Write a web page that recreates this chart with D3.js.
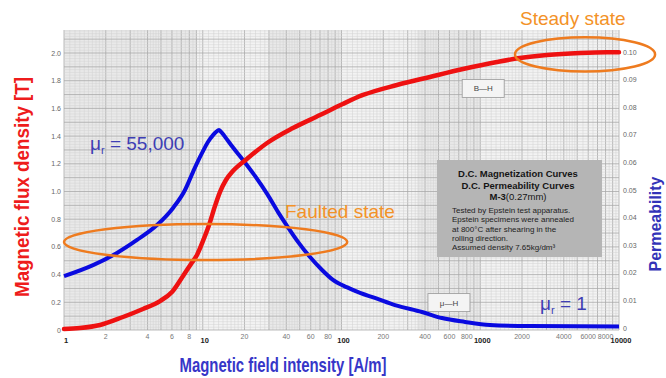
<!DOCTYPE html>
<html>
<head>
<meta charset="utf-8">
<script src="https://cdn.jsdelivr.net/npm/d3@7/dist/d3.min.js"></script>
<style>
  body { margin: 0; background: #fff; }
  svg { display: block; font-family: Arial, "Liberation Sans", sans-serif; }
</style>
</head>
<body>
<svg id="chart" width="666" height="378"></svg>
<script>
// B-H magnetization curve (field intensity A/m, flux density T)
const bhField = [1, 1.3, 1.82, 2.66, 3.71, 4.92, 6.0, 7.21, 8.23, 9.09, 10.04, 11.1, 12.25, 13.3, 14.7, 16.5, 20.8, 29.1, 44.7, 70, 102, 143, 251, 434, 751, 1320, 1930, 3030, 5240, 8200, 10000];
const bhFlux  = [0.007, 0.014, 0.036, 0.094, 0.152, 0.209, 0.274, 0.39, 0.477, 0.542, 0.643, 0.758, 0.895, 0.996, 1.083, 1.148, 1.235, 1.35, 1.458, 1.552, 1.632, 1.697, 1.769, 1.827, 1.884, 1.935, 1.964, 1.986, 2.0, 2.005, 2.005];

// mu-H permeability curve
const muField = [1, 1.62, 2.41, 3.36, 4.68, 6.11, 7.45, 8.5, 9.24, 10.04, 10.9, 11.86, 12.46, 13.1, 13.76, 14.7, 16.0, 19.5, 23.8, 29.1, 34.9, 40.5, 48.6, 59.3, 72.4, 86.8, 110, 136, 174, 243, 380, 530, 777, 1175, 2284, 10000];
const muPerm  = [0.0188, 0.0228, 0.0272, 0.0319, 0.0373, 0.0435, 0.0500, 0.0565, 0.0605, 0.0641, 0.0674, 0.0699, 0.0710, 0.0717, 0.0707, 0.0688, 0.0663, 0.0609, 0.0551, 0.0486, 0.0420, 0.0370, 0.0312, 0.0257, 0.0210, 0.0174, 0.0147, 0.0127, 0.0109, 0.0083, 0.0058, 0.0036, 0.0022, 0.0011, 0.0007, 0.0005];

// axis ticks
const fieldTicks = [1, 2, 4, 6, 8, 10, 20, 40, 60, 80, 100, 200, 400, 600, 800, 1000, 2000, 4000, 6000, 8000, 10000];
const fluxTicks = [0, 0.2, 0.4, 0.6, 0.8, 1.0, 1.2, 1.4, 1.6, 1.8, 2.0];
const permTicks = [0, 0.01, 0.02, 0.03, 0.04, 0.05, 0.06, 0.07, 0.08, 0.09, 0.10];

// highlighted regions: [H from, H to], B centre, B half-height
const faultedRange = [1, 110], faultedB = [0.635, 0.13];
const steadyRange = [1780, 18200], steadyB = [1.99, 0.123];

const noteTitle = ["D.C. Magnetization Curves", "D.C. Permeability Curves"];
const noteBody = ["Tested by Epstein test apparatus.", "Epstein specimens were annealed", "at 800\u00b0C after shearing in the", "rolling direction.", "Assumed density 7.65kg/dm\u00b3"];

const margins = { left: 64, right: 47, top: 30, bottom: 48 };
const svg = d3.select("#chart");
const W = 666, H = 378;

const x = d3.scaleLog().domain([1, 10000]).range([margins.left, W - margins.right]);
const yB = d3.scaleLinear().domain([0, 2]).range([H - margins.bottom, 53]);
const yMu = d3.scaleLinear().domain([0, 0.1]).range([328, 52]);

const orange = "#ee7b1f", orangeText = "#f39227";

// plot background and log-paper grid
const gTop = margins.top, gBottom = yB(0);
svg.append("rect")
  .attr("x", x(1)).attr("y", gTop)
  .attr("width", x(10000) - x(1)).attr("height", gBottom - gTop)
  .attr("fill", "#f3f3f3");

// slightly darker paper bands as in the scan
[[1, 9], [30, 100], [350, 1000]].forEach(([a, b]) => {
  svg.append("rect")
    .attr("x", x(a)).attr("y", gTop)
    .attr("width", x(b) - x(a)).attr("height", gBottom - gTop)
    .attr("fill", "#e9e9e9");
});

const vLines = [];
[1, 10, 100, 1000].forEach((d) => {
  for (let v = 1; v < 2 - 1e-9; v += 0.1) vLines.push([v * d, Math.abs(v - Math.round(v)) < 1e-6]);
  for (let v = 2; v < 5 - 1e-9; v += 0.2) vLines.push([v * d, Math.abs(v - Math.round(v)) < 1e-6]);
  for (let v = 5; v < 10 - 1e-9; v += 0.5) vLines.push([v * d, Math.abs(v - Math.round(v)) < 1e-6]);
});
vLines.push([10000, true]);
svg.append("g").selectAll("line").data(vLines).join("line")
  .attr("x1", (d) => x(d[0])).attr("x2", (d) => x(d[0]))
  .attr("y1", gTop).attr("y2", gBottom)
  .attr("stroke", (d) => (d[1] ? "#aaa" : "#d0d0d0"))
  .attr("stroke-width", (d) => (d[1] ? 0.8 : 0.5));

const hLines = d3.range(0, 109).map((i) => i * 0.02);
svg.append("g").selectAll("line").data(hLines).join("line")
  .attr("x1", x(1)).attr("x2", x(10000))
  .attr("y1", (d) => yB(d)).attr("y2", (d) => yB(d))
  .attr("stroke", (d, i) => (i % 5 === 0 ? "#aaa" : "#d2d2d2"))
  .attr("stroke-width", (d, i) => (i % 5 === 0 ? 0.8 : 0.5));

// tick labels
svg.append("g").selectAll("text").data(fluxTicks).join("text")
  .attr("x", x(1) - 3).attr("y", (d) => yB(d) + 2.5)
  .attr("text-anchor", "end").attr("font-size", 7).attr("fill", "#666")
  .text((d) => (d === 0 ? "0" : d.toFixed(1)));

svg.append("g").selectAll("text").data(permTicks).join("text")
  .attr("x", x(10000) + 4).attr("y", (d) => yMu(d) + 2.5)
  .attr("font-size", 7).attr("fill", "#666")
  .text((d) => (d === 0 ? "0" : d.toFixed(2)));

const isDecade = (d) => Math.abs(Math.log10(d) - Math.round(Math.log10(d))) < 1e-9;
svg.append("g").selectAll("text").data(fieldTicks).join("text")
  .attr("x", (d) => x(d) + (isDecade(d) ? 2 : 0))
  .attr("y", (d) => (isDecade(d) ? 343 : 339))
  .attr("text-anchor", "middle")
  .attr("font-size", (d) => (isDecade(d) ? 7.5 : 7))
  .attr("font-weight", (d) => (isDecade(d) ? "bold" : "normal"))
  .attr("fill", (d) => (isDecade(d) ? "#222" : "#777"))
  .text((d) => d);

// curve labels
const labelBox = (cx, cy, label) => {
  svg.append("rect")
    .attr("x", cx - 21).attr("y", cy - 9).attr("width", 42).attr("height", 18)
    .attr("fill", "#f4f4f4").attr("stroke", "#999").attr("stroke-width", 0.8);
  svg.append("text").attr("x", cx).attr("y", cy + 3)
    .attr("text-anchor", "middle").attr("font-size", 8).attr("fill", "#444").text(label);
};
labelBox(x(1050), yB(1.744), "B\u2014H");
labelBox(x(595), yMu(0.0092), "\u03bc\u2014H");

// note box
const note = svg.append("g");
note.append("rect").attr("x", 437).attr("y", 160).attr("width", 165).attr("height", 97).attr("fill", "#b5b5b5");
noteTitle.forEach((t, i) => {
  note.append("text").attr("x", 518).attr("y", 177 + i * 11.5)
    .attr("text-anchor", "middle").attr("font-size", 9.5).attr("font-weight", "bold").attr("fill", "#151515").text(t);
});
const m3 = note.append("text").attr("x", 518).attr("y", 200).attr("text-anchor", "middle").attr("font-size", 9.5).attr("fill", "#151515");
m3.append("tspan").attr("font-weight", "bold").text("M-3");
m3.append("tspan").text("(0.27mm)");
noteBody.forEach((t, i) => {
  note.append("text").attr("x", 452).attr("y", 213 + i * 9.3)
    .attr("font-size", 8).attr("fill", "#222").text(t);
});

// curves
const bhLine = d3.line().x((d) => x(d[0])).y((d) => yB(d[1])).curve(d3.curveMonotoneX);
const muLine = d3.line().x((d) => x(d[0])).y((d) => yMu(d[1])).curve(d3.curveMonotoneX);

svg.append("path")
  .datum(muField.map((h, i) => [h, muPerm[i]]))
  .attr("fill", "none").attr("stroke", "#0a0ae0").attr("stroke-width", 4)
  .attr("stroke-linejoin", "round").attr("d", muLine);

svg.append("path")
  .datum(bhField.map((h, i) => [h, bhFlux[i]]))
  .attr("fill", "none").attr("stroke", "#ee1111").attr("stroke-width", 4.5)
  .attr("stroke-linecap", "round").attr("d", bhLine);

// highlighted regions
const ellipse = (range, by) => {
  const x0 = x(range[0]), x1 = x(range[1]);
  const y0 = yB(by[0] + by[1]), y1 = yB(by[0] - by[1]);
  svg.append("ellipse")
    .attr("cx", (x0 + x1) / 2).attr("cy", yB(by[0]))
    .attr("rx", (x1 - x0) / 2).attr("ry", (y1 - y0) / 2)
    .attr("fill", "none").attr("stroke", orange).attr("stroke-width", 2.5);
};
ellipse(faultedRange, faultedB);
ellipse(steadyRange, steadyB);

svg.append("text").attr("x", 285).attr("y", 218).attr("font-size", 19).attr("fill", orangeText).text("Faulted state");
svg.append("text").attr("x", 520).attr("y", 25).attr("font-size", 19).attr("fill", orangeText).text("Steady state");

// mu_r annotations
const muLabel = (px, py, value) => {
  const t = svg.append("text").attr("x", px).attr("y", py).attr("font-size", 19).attr("fill", "#3e3eb4");
  t.append("tspan").text("\u03bc");
  t.append("tspan").attr("font-size", 11).attr("dy", 4).text("r");
  t.append("tspan").attr("dy", -4).text(" = " + value);
};
muLabel(90, 150, "55,000");
muLabel(540, 310, "1");

// axis titles
svg.append("text")
  .attr("transform", "translate(29,187) rotate(-90)")
  .attr("text-anchor", "middle").attr("font-size", 21).attr("font-weight", "bold")
  .attr("fill", "#ee1c1c").attr("textLength", 220).attr("lengthAdjust", "spacingAndGlyphs")
  .text("Magnetic flux density [T]");

svg.append("text")
  .attr("x", 283).attr("y", 372)
  .attr("text-anchor", "middle").attr("font-size", 21).attr("font-weight", "bold")
  .attr("fill", "#3636c8").attr("textLength", 207).attr("lengthAdjust", "spacingAndGlyphs")
  .text("Magnetic field intensity [A/m]");

svg.append("text")
  .attr("transform", "translate(661,224) rotate(-90)")
  .attr("text-anchor", "middle").attr("font-size", 17).attr("font-weight", "bold")
  .attr("fill", "#3333b8").attr("textLength", 95).attr("lengthAdjust", "spacingAndGlyphs")
  .text("Permeability");
</script>
</body>
</html>
